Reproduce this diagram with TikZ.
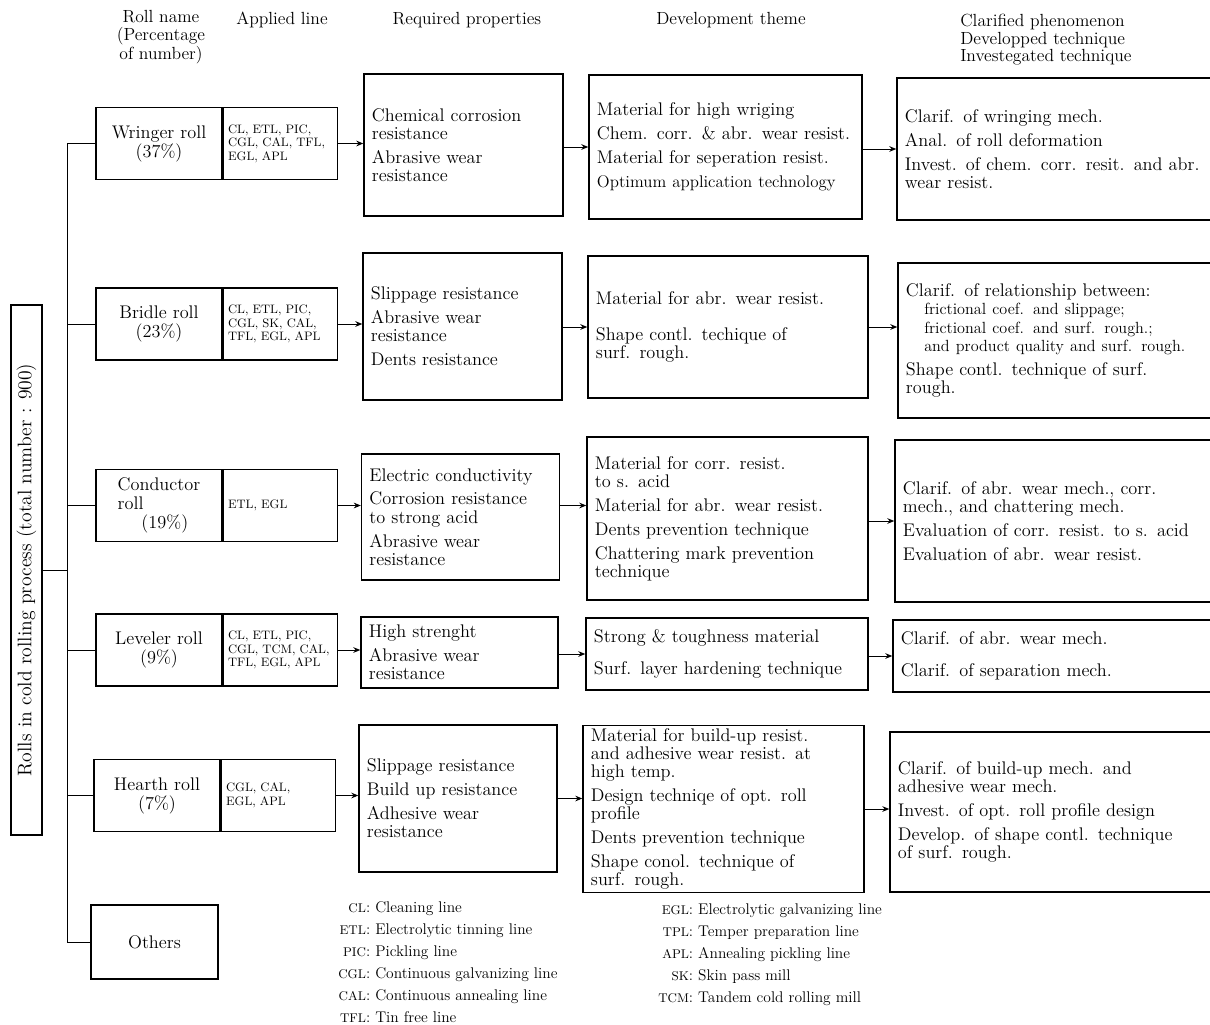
\documentclass[tikz,border=0pt]{standalone}
\usepackage{tikz}
\usetikzlibrary{positioning, arrows.meta}

\tikzset{
    propbox/.style 2 args={draw, line width=0.9pt, align=left, inner xsep=0.2cm, inner ysep=2pt,
        minimum width=#1, text width=#1-0.4cm, minimum height=#2, font=\fontsize{13}{13}\selectfont},
    namebox/.style={draw, line width=0.9pt, minimum width=3.15cm, minimum height=1.8cm,
        align=center, font=\fontsize{13}{13.5}\selectfont},
    linebox/.style={draw, line width=0.9pt, minimum width=2.85cm, text width=2.61cm, inner xsep=0.12cm,
        minimum height=1.8cm, align=left, font=\fontsize{8.7}{9.6}\selectfont},
    head/.style={anchor=north, align=center, inner sep=0pt, font=\fontsize{12.5}{12.5}\selectfont},
    keylist/.style={anchor=north west, inner sep=0pt, font=\fontsize{11}{15.6}\selectfont},
    link/.style={line width=0.7pt},
    arr/.style={link, -{Stealth[length=5pt, width=4pt]}},
}

\begin{document}
\begin{tikzpicture}[x=0.025cm, y=-0.025cm]
    \useasboundingbox (0,0) rectangle (1210,1025);

    \node[head] (headname) at (161,10) {Roll name\\(Percentage\\of number)};
    \node[head] (headline) at (282,12) {Applied line};
    \node[head] (headreq) at (467,12) {Required properties};
    \node[head] (headdev) at (731,12) {Development theme};
    \node[head, anchor=north west, align=left] (headclar) at (960,14)
        {Clarified phenomenon\\Developped technique\\Investegated technique};

    \node[draw, line width=0.9pt, rotate=90, minimum width=13.25cm, minimum height=0.775cm,
          font=\fontsize{14}{14}\selectfont] (root) at (26.5,570)
        {Rolls in cold rolling process (total number : 900)};

    \node[namebox] (wn) at (159,143.5) {Wringer roll\\(37\%)};
    \node[linebox, right=0pt of wn] (wl) {CL, ETL, PIC,\\CGL, CAL, TFL,\\EGL, APL};
    \node[propbox={4.975cm}{3.55cm}] (wq) at (463.5,145)
        {Chemical corrosion\\resistance\\[4pt]Abrasive wear\\resistance};
    \node[propbox={6.825cm}{3.6cm}] (wd) at (725.5,147)
        {Material for high wriging\\[4pt]Chem. corr. \& abr. wear resist.\\[4pt]Material for seperation resist.\\[4pt]{\fontsize{12}{13}\selectfont Optimum application technology}};
    \node[propbox={7.95cm}{3.55cm}] (wc) at (1056,149)
        {Clarif. of wringing mech.\\[4pt]Anal. of roll deformation\\[4pt]Invest. of chem. corr. resit. and abr.\\wear resist.};

    \node[namebox] (bn) at (159,324) {Bridle roll\\(23\%)};
    \node[linebox, right=0pt of bn] (bl) {CL, ETL, PIC,\\CGL, SK, CAL,\\TFL, EGL, APL};
    \node[propbox={4.975cm}{3.675cm}] (bq) at (462.5,326.5)
        {Slippage resistance\\[4pt]Abrasive wear\\resistance\\[4pt]Dents resistance};
    \node[propbox={7cm}{3.55cm}] (bd) at (728,327)
        {Material for abr. wear resist.\\[12pt]Shape contl. techique of\\surf. rough.};
    \node[propbox={7.925cm}{3.875cm}] (bc) at (1056.5,340.5)
        {Clarif. of relationship between:\\
         \hspace*{1em}{\fontsize{11.5}{12}\selectfont frictional coef. and slippage;}\\
         \hspace*{1em}{\fontsize{11.5}{12}\selectfont frictional coef. and surf. rough.;}\\
         \hspace*{1em}{\fontsize{11.5}{12}\selectfont and product quality and surf. rough.}\\[4pt]
         Shape contl. technique of surf.\\rough.};

    \node[namebox, align=left] (cn) at (159,505.5) {Conductor\\roll\\\hspace*{1.3em}(19\%)};
    \node[linebox, right=0pt of cn] (cl) {ETL, EGL};
    \node[propbox={4.95cm}{3.15cm}] (cq) at (460.5,517)
        {Electric conductivity\\[4pt]Corrosion resistance\\to strong acid\\[4pt]Abrasive wear\\resistance};
    \node[propbox={7.025cm}{4.075cm}] (cd) at (727.5,518.5)
        {Material for corr. resist.\\to s. acid\\[4pt]Material for abr. wear resist.\\[4pt]Dents prevention technique\\[4pt]Chattering mark prevention\\technique};
    \node[propbox={8cm}{4.05cm}] (cc) at (1055,521)
        {Clarif. of abr. wear mech., corr.\\mech., and chattering mech.\\[4pt]Evaluation of corr. resist. to s. acid\\[4pt]Evaluation of abr. wear resist.};

    \node[namebox] (ln) at (159,650) {Leveler roll\\(9\%)};
    \node[linebox, right=0pt of ln] (ll) {CL, ETL, PIC,\\CGL, TCM, CAL,\\TFL, EGL, APL};
    \node[propbox={4.925cm}{1.775cm}] (lq) at (459.5,652.5)
        {High strenght\\[4pt]Abrasive wear\\resistance};
    \node[propbox={7.05cm}{1.8cm}] (ld) at (727,654)
        {Strong \& toughness material\\[10pt]Surf. layer hardening technique};
    \node[propbox={8.05cm}{1.8cm}] (lc) at (1054,656)
        {Clarif. of abr. wear mech.\\[10pt]Clarif. of separation mech.};

    \node[namebox] (hn) at (157,795.5) {Hearth roll\\(7\%)};
    \node[linebox, right=0pt of hn] (hl) {CGL, CAL,\\EGL, APL};
    \node[propbox={4.95cm}{3.675cm}] (hq) at (458,798.5)
        {Slippage resistance\\[4pt]Build up resistance\\[4pt]Adhesive wear\\resistance};
    \node[propbox={7.025cm}{4.1cm}] (hd) at (723.5,809)
        {Material for build-up resist.\\and adhesive wear resist. at\\high temp.\\[4pt]Design techniqe of opt. roll\\profile\\[4pt]Dents prevention technique\\[4pt]Shape conol. technique of\\surf. rough.};
    \node[propbox={8.125cm}{4cm}] (hc) at (1052.5,812)
        {Clarif. of build-up mech. and\\adhesive wear mech.\\[4pt]Invest. of opt. roll profile design\\[4pt]Develop. of shape contl. technique\\of surf. rough.};

    \node[namebox, minimum width=3.175cm, minimum height=1.85cm] (on) at (154.5,942) {Others};

    \node[keylist] (keya) at (338,897) {\begin{tabular}{@{}r@{:\ }l@{}}
        {\small CL} & Cleaning line\\
        {\small ETL} & Electrolytic tinning line\\
        {\small PIC} & Pickling line\\
        {\small CGL} & Continuous galvanizing line\\
        {\small CAL} & Continuous annealing line\\
        {\small TFL} & Tin free line
    \end{tabular}};
    \node[keylist] (keyb) at (658,899) {\begin{tabular}{@{}r@{:\ }l@{}}
        {\small EGL} & Electrolytic galvanizing line\\
        {\small TPL} & Temper preparation line\\
        {\small APL} & Annealing pickling line\\
        {\small SK} & Skin pass mill\\
        {\small TCM} & Tandem cold rolling mill
    \end{tabular}};

    \coordinate (trunk) at (67,0);
    \draw[link] (root.south) -- (root.south -| trunk);
    \draw[link] (wn.west -| trunk) -- (on.west -| trunk);
    \foreach \n in {wn,bn,cn,ln,hn,on}
        \draw[link] (\n.west -| trunk) -- (\n.west);

    \draw[arr] (wl.east) -- (wl.east -| wq.west);
    \draw[arr] (wq.east |- wd.west) -- (wd.west);
    \draw[arr] (wd.east |- wc.west) -- (wc.west);
    \draw[arr] (bl.east) -- (bl.east -| bq.west);
    \draw[arr] (bq.east |- bd.west) -- (bd.west);
    \draw[arr] (bd.east) -- (bd.east -| bc.west);
    \draw[arr] (cl.east) -- (cl.east -| cq.west);
    \draw[arr] (cq.east |- cl.east) -- (cl.east -| cd.west);
    \draw[arr] (cd.east |- cc.west) -- (cc.west);
    \draw[arr] (ll.east) -- (ll.east -| lq.west);
    \draw[arr] (lq.east |- ld.west) -- (ld.west);
    \draw[arr] (ld.east |- lc.west) -- (lc.west);
    \draw[arr] (hl.east) -- (hl.east -| hq.west);
    \draw[arr] (hq.east) -- (hq.east -| hd.west);
    \draw[arr] (hd.east) -- (hd.east -| hc.west);
\end{tikzpicture}
\end{document}
